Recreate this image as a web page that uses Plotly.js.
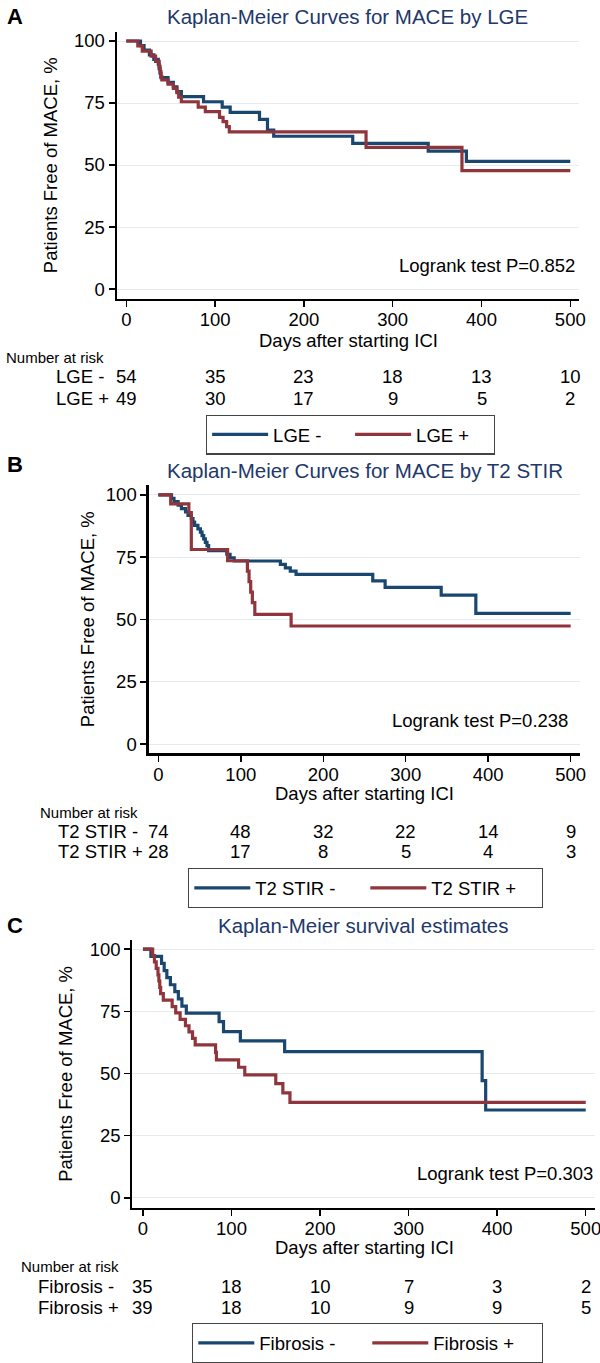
<!DOCTYPE html>
<html>
<head>
<meta charset="utf-8">
<script src="https://cdn.plot.ly/plotly-3.0.1.min.js"></script>
<style>html,body{margin:0;padding:0;background:#fff;}#chart{width:600px;height:1363px;}</style>
</head>
<body>
<div id="chart"></div>
<script>
// ---------------- DATA ----------------
const dayTicks = [0, 100, 200, 300, 400, 500];
const survTicks = [0, 25, 50, 75, 100];

// Panel A: LGE
const lgeNegDays = [0,16,20,26,31,36,37,38,39,47,53,57,62,87,108,117,150,159,166,255,340,383,500];
const lgeNegSurv = [100,98.1,96.3,94.4,92.6,90.7,88.9,87.0,85.2,83.3,81.5,79.6,77.6,75.5,73.3,71.2,68.4,64.1,61.6,58.7,55.6,51.5,51.5];
const lgePosDays = [0,13,18,28,33,37,38,39,40,47,53,57,59,62,81,89,105,109,113,116,270,378,500];
const lgePosSurv = [100,98.0,95.9,93.9,91.8,89.8,87.8,85.7,84.3,82.6,80.9,79.2,77.4,75.5,73.3,71.5,69.2,67.5,65.5,63.4,57.1,47.7,47.7];
const lgeNegRisk = [54, 35, 23, 18, 13, 10];
const lgePosRisk = [49, 30, 17, 9, 5, 2];

// Panel B: T2 STIR
const t2NegDays = [0,16,19,24,28,33,36,40,42,44,48,51,53,55,57,59,61,83,87,92,148,154,160,167,260,275,343,385,500];
const t2NegSurv = [100,98.6,97.3,95.9,94.5,93.2,91.8,90.5,89.1,87.8,86.4,85.1,83.7,82.4,81.0,79.7,77.6,76.2,74.8,73.5,72.1,70.7,69.4,68.1,65.5,62.9,59.8,52.5,52.5];
const t2PosDays = [0,15,37,40,84,108,110,112,114,117,161,500];
const t2PosSurv = [100,96.4,92.9,78.1,73.6,69.4,65.2,61.0,56.8,52.1,47.4,47.4];
const t2NegRisk = [74, 48, 32, 22, 14, 9];
const t2PosRisk = [28, 17, 8, 5, 4, 3];

// Panel C: Fibrosis
const fibNegDays = [0,9,21,24,27,31,36,40,44,49,86,91,110,160,383,387,500];
const fibNegSurv = [100,97.1,94.3,91.4,88.6,85.7,82.9,80.0,77.1,74.3,70.9,66.8,63.1,58.8,47.1,35.3,35.3];
const fibPosDays = [0,11,13,15,17,18,19,20,23,33,37,42,48,52,56,59,82,83,108,115,150,158,166,500];
const fibPosSurv = [100,97.4,94.9,92.3,89.7,87.2,84.6,82.1,79.5,76.9,74.4,71.8,69.2,66.7,64.1,61.5,58.5,55.5,52.5,49.4,45.9,42.2,38.4,38.4];
const fibNegRisk = [35, 18, 10, 7, 3, 2];
const fibPosRisk = [39, 18, 10, 9, 9, 5];

const panelLetters = ['A', 'B', 'C'];
const panelTitles = ['Kaplan-Meier Curves for MACE by LGE', 'Kaplan-Meier Curves for MACE by T2 STIR', 'Kaplan-Meier survival estimates'];
const groupNames = [['LGE -', 'LGE +'], ['T2 STIR -', 'T2 STIR +'], ['Fibrosis -', 'Fibrosis +']];
const logrankTexts = ['Logrank test P=0.852', 'Logrank test P=0.238', 'Logrank test P=0.303'];
const yTitle = 'Patients Free of MACE, %';
const xTitle = 'Days after starting ICI';
const riskHeader = 'Number at risk';

// ---------------- STYLE / LAYOUT ----------------
const W = 600, H = 1363;
const X = v => v / W;
const Y = v => 1 - v / H;
const FONT = 'Liberation Sans, Arial, Helvetica, sans-serif';
const BLUE = '#1a476f';
const RED = '#90353b';
const TITLE_COLOR = '#22386a';
const GRID = '#e4ecef';
const FS = 18.5;

// pixel geometry per panel
const P = [
  {axL:116.7, axR:579, axT:31.7, axB:298.7, xr:[-10.8,509.8], yr:[-3.9,103.75],
   letter:[14.5,16], title:[347.5,17], yt:[50], xt:[348,340], lr:[577,265],
   hdr:[4,357.5], rowL:54, rows:[376.7,398.3], leg:[205.8,414.5], ew:72},
  {axL:148.6, axR:580, axT:485, axB:753.3, xr:[-11.8,511.3], yr:[-3.7,104],
   letter:[14.5,464], title:[364.5,470], yt:[87], xt:[364.5,793.5], lr:[569.5,720],
   hdr:[37.5,812.7], rowL:56, rows:[831.7,851.7], leg:[188,868], ew:105},
  {axL:132.4, axR:594.6, axT:940, axB:1207.7, xr:[-11.9,510], yr:[-4.0,103.7],
   letter:[15.4,925], title:[363,925], yt:[66], xt:[364,1247], lr:[594.6,1173.3],
   hdr:[18.5,1266.7], rowL:36, rows:[1286.7,1307.3], leg:[192,1323], ew:103}
];

const series = [
  [[lgeNegDays, lgeNegSurv], [lgePosDays, lgePosSurv]],
  [[t2NegDays, t2NegSurv], [t2PosDays, t2PosSurv]],
  [[fibNegDays, fibNegSurv], [fibPosDays, fibPosSurv]]
];
const risks = [[lgeNegRisk, lgePosRisk], [t2NegRisk, t2PosRisk], [fibNegRisk, fibPosRisk]];
const colors = [BLUE, RED];

const traces = [];
const layout = {
  width: W, height: H,
  margin: {l:0, r:0, t:0, b:0},
  paper_bgcolor: '#fff', plot_bgcolor: '#fff',
  font: {family: FONT, size: FS, color: '#000'},
  showlegend: true,
  annotations: [],
  shapes: []
};

P.forEach((p, i) => {
  const sfx = i === 0 ? '' : String(i + 1);
  const xa = 'x' + sfx, ya = 'y' + sfx;
  const legName = i === 0 ? 'legend' : 'legend' + (i + 1);

  series[i].forEach((s, j) => {
    traces.push({
      type: 'scatter', mode: 'lines',
      x: s[0], y: s[1],
      xaxis: xa, yaxis: ya,
      name: groupNames[i][j],
      legend: legName,
      line: {color: colors[j], width: 3.2, shape: 'hv'},
      hoverinfo: 'x+y+name'
    });
  });

  layout['xaxis' + sfx] = {
    domain: [X(p.axL), X(p.axR)], range: p.xr, anchor: ya,
    tickmode: 'array', tickvals: dayTicks, ticktext: dayTicks.map(String),
    ticks: 'outside', ticklen: 6, tickwidth: 1.5, tickcolor: '#000',
    ticklabeloverflow: 'allow', ticklabelstandoff: -3,
    showline: true, linewidth: 2.2, linecolor: '#000',
    showgrid: false, zeroline: false, fixedrange: true,
    tickfont: {family: FONT, size: FS, color: '#000'}
  };
  layout['yaxis' + sfx] = {
    domain: [Y(p.axB), Y(p.axT)], range: p.yr, anchor: xa,
    tickmode: 'array', tickvals: survTicks, ticktext: survTicks.map(String),
    ticks: 'outside', ticklen: 6, tickwidth: 1.5, tickcolor: '#000',
    showline: true, linewidth: 2.2, linecolor: '#000',
    showgrid: true, gridcolor: GRID, gridwidth: 1, zeroline: false, fixedrange: true,
    tickfont: {family: FONT, size: FS, color: '#000'}
  };

  layout[legName] = {
    x: X(p.leg[0]), y: Y(p.leg[1]), xanchor: 'left', yanchor: 'top',
    orientation: 'h', bgcolor: '#fff', bordercolor: '#444', borderwidth: 1.3,
    font: {family: FONT, size: FS, color: '#000'},
    itemwidth: 56, entrywidth: p.ew, entrywidthmode: 'pixels',
    itemclick: false, itemdoubleclick: false
  };

  const A = layout.annotations;
  A.push({xref:'paper', yref:'paper', x:X(p.letter[0]), y:Y(p.letter[1]), text:'<b>'+panelLetters[i]+'</b>',
          showarrow:false, xanchor:'center', yanchor:'middle', font:{family:FONT, size:22, color:'#000'}});
  A.push({xref:'paper', yref:'paper', x:X(p.title[0]), y:Y(p.title[1]), text:panelTitles[i],
          showarrow:false, xanchor:'center', yanchor:'middle', font:{family:FONT, size:20.5, color:TITLE_COLOR}});
  A.push({xref:'paper', yref:'paper', x:X(p.yt[0]), y:Y((p.axT + p.axB) / 2), text:yTitle, textangle:-90,
          showarrow:false, xanchor:'center', yanchor:'middle', font:{family:FONT, size:FS, color:'#000'}});
  A.push({xref:'paper', yref:'paper', x:X(p.xt[0]), y:Y(p.xt[1]), text:xTitle,
          showarrow:false, xanchor:'center', yanchor:'middle', font:{family:FONT, size:FS, color:'#000'}});
  A.push({xref:'paper', yref:'paper', x:X(p.lr[0]), y:Y(p.lr[1]), text:logrankTexts[i],
          showarrow:false, xanchor:'right', yanchor:'middle', font:{family:FONT, size:FS, color:'#000'}});
  A.push({xref:'paper', yref:'paper', x:X(p.hdr[0]), y:Y(p.hdr[1]), text:riskHeader,
          showarrow:false, xanchor:'left', yanchor:'middle', font:{family:FONT, size:15, color:'#000'}});
  [0, 1].forEach(j => {
    A.push({xref:'paper', yref:'paper', x:X(p.rowL), y:Y(p.rows[j]), text:groupNames[i][j],
            showarrow:false, xanchor:'left', yanchor:'middle', font:{family:FONT, size:FS, color:'#000'}});
    risks[i][j].forEach((n, k) => {
      A.push({xref:xa, yref:'paper', x:dayTicks[k], y:Y(p.rows[j]), text:String(n),
              showarrow:false, xanchor:'center', yanchor:'middle', font:{family:FONT, size:FS, color:'#000'}});
    });
  });
});

Plotly.newPlot('chart', traces, layout, {staticPlot: true, displayModeBar: false});
</script>
</body>
</html>
